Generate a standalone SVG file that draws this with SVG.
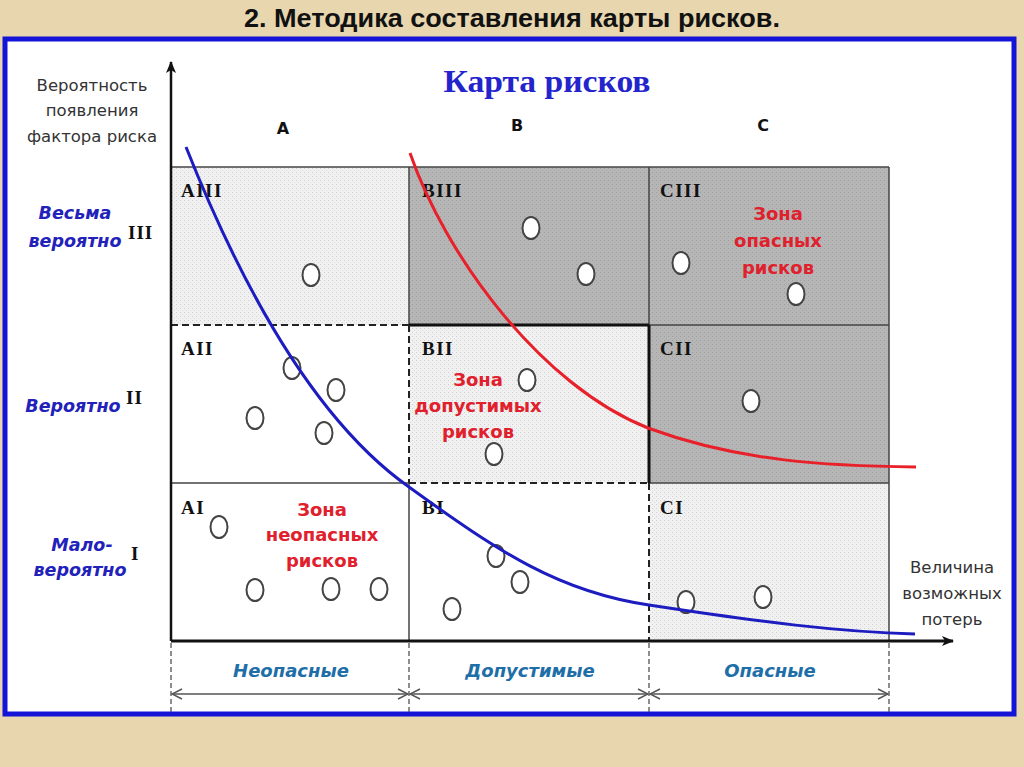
<svg xmlns="http://www.w3.org/2000/svg" width="1024" height="767" viewBox="0 0 1024 767">
<defs>
<pattern id="light" width="4" height="4" patternUnits="userSpaceOnUse">
<rect width="4" height="4" fill="#f1f1f1"/>
<rect x="0" y="0" width="1" height="1" fill="#cfcfcf"/>
<rect x="2" y="2" width="1" height="1" fill="#dadada"/>
</pattern>
<pattern id="dark" width="4" height="4" patternUnits="userSpaceOnUse">
<rect width="4" height="4" fill="#b6b6b6"/>
<rect x="0" y="0" width="1" height="1" fill="#9c9c9c"/>
<rect x="2" y="2" width="1" height="1" fill="#a8a8a8"/>
</pattern>
<marker id="axisArrow" viewBox="0 0 12 10" refX="11" refY="5" markerWidth="12" markerHeight="10" markerUnits="userSpaceOnUse" orient="auto">
<path d="M0,0 L12,5 L0,10 L3,5 Z" fill="#111"/>
</marker>
<marker id="chev" viewBox="0 0 12 12" refX="11" refY="6" markerWidth="12" markerHeight="12" markerUnits="userSpaceOnUse" orient="auto-start-reverse">
<path d="M1,1 L11,6 L1,11" fill="none" stroke="#555" stroke-width="1.5"/>
</marker>
</defs>
<style>
.title{font-family:"Liberation Sans",Arial,sans-serif;font-weight:bold;font-size:25px;fill:#111}
.map{font-family:"Liberation Serif","Times New Roman",serif;font-weight:bold;font-size:32px;fill:#2424cc}
.ax{font-family:"DejaVu Sans",Verdana,sans-serif;font-size:16.5px;fill:#333}
.col{font-family:"DejaVu Sans",Verdana,sans-serif;font-weight:bold;font-size:16px;fill:#111}
.row{font-family:"DejaVu Sans",Verdana,sans-serif;font-weight:bold;font-style:italic;font-size:17.5px;fill:#2222bb}
.rn{font-family:"Liberation Serif","Times New Roman",serif;font-weight:bold;font-size:19px;fill:#111;letter-spacing:1px}
.cell{font-family:"Liberation Serif","Times New Roman",serif;font-weight:bold;font-size:19px;fill:#111;letter-spacing:1.5px}
.zone{font-family:"DejaVu Sans",Verdana,sans-serif;font-weight:bold;font-size:18px;fill:#e0202c}
.bot{font-family:"DejaVu Sans",Verdana,sans-serif;font-weight:bold;font-style:italic;font-size:18px;fill:#1e6ea8}
.pt{fill:#fff;stroke:#444;stroke-width:2}
.grid{stroke:#444;stroke-width:1.5;fill:none}
.thick{stroke:#111;stroke-width:3;fill:none}
.dash{stroke:#222;stroke-width:2;stroke-dasharray:7,4;fill:none}
.guide{stroke:#444;stroke-width:1.2;stroke-dasharray:5,3;fill:none}
.dim{stroke:#555;stroke-width:1.5;fill:none}
</style>
<rect width="1024" height="767" fill="#e7d6ae"/>
<text class="title" x="512" y="27" text-anchor="middle" textLength="536" lengthAdjust="spacingAndGlyphs">2. Методика составления карты рисков.</text>
<rect x="5" y="39" width="1009" height="675" fill="#fff" stroke="#1414d8" stroke-width="5"/>
<text class="map" x="547" y="92" text-anchor="middle" textLength="207" lengthAdjust="spacingAndGlyphs">Карта рисков</text>

<g id="axis-labels">
<text class="ax" x="92" y="91" text-anchor="middle">Вероятность</text>
<text class="ax" x="92" y="116" text-anchor="middle">появления</text>
<text class="ax" x="92" y="142" text-anchor="middle">фактора риска</text>
<text class="ax" x="952" y="573" text-anchor="middle">Величина</text>
<text class="ax" x="952" y="599" text-anchor="middle">возможных</text>
<text class="ax" x="952" y="625" text-anchor="middle">потерь</text>
</g>
<g id="col-headers">
<text class="col" x="283" y="134" text-anchor="middle">A</text>
<text class="col" x="517" y="131" text-anchor="middle">B</text>
<text class="col" x="763" y="131" text-anchor="middle">C</text>
</g>
<g id="row-III">
<text class="row" x="75" y="219" text-anchor="middle">Весьма</text>
<text class="row" x="75" y="247" text-anchor="middle">вероятно</text>
<text class="rn" x="128" y="239">III</text>
</g>
<g id="row-II">
<text class="row" x="73" y="412" text-anchor="middle">Вероятно</text>
<text class="rn" x="126" y="404">II</text>
</g>
<g id="row-I">
<text class="row" x="82" y="551" text-anchor="middle">Мало-</text>
<text class="row" x="80" y="576" text-anchor="middle">вероятно</text>
<text class="rn" x="131" y="560">I</text>
</g>

<g id="cells">
<g id="AIII"><rect x="171" y="167" width="238" height="158" fill="url(#light)"/><text class="cell" x="181" y="197">AIII</text></g>
<g id="BIII"><rect x="409" y="167" width="240" height="158" fill="url(#dark)"/><text class="cell" x="422" y="197">BIII</text></g>
<g id="CIII"><rect x="649" y="167" width="240" height="158" fill="url(#dark)"/><text class="cell" x="660" y="197">CIII</text></g>
<g id="AII"><rect x="171" y="325" width="238" height="158" fill="#fff"/><text class="cell" x="181" y="355">AII</text></g>
<g id="BII"><rect x="409" y="325" width="240" height="158" fill="url(#light)"/><text class="cell" x="422" y="355">BII</text></g>
<g id="CII"><rect x="649" y="325" width="240" height="158" fill="url(#dark)"/><text class="cell" x="660" y="355">CII</text></g>
<g id="AI"><rect x="171" y="483" width="238" height="158" fill="#fff"/><text class="cell" x="181" y="514">AI</text></g>
<g id="BI"><rect x="409" y="483" width="240" height="158" fill="#fff"/><text class="cell" x="422" y="514">BI</text></g>
<g id="CI"><rect x="649" y="483" width="240" height="158" fill="url(#light)"/><text class="cell" x="660" y="514">CI</text></g>
</g>

<g id="grid-lines">
<line class="grid" x1="171" y1="167" x2="889" y2="167"/>
<line class="grid" x1="889" y1="167" x2="889" y2="641"/>
<line class="grid" x1="409" y1="167" x2="409" y2="325"/>
<line class="grid" x1="649" y1="167" x2="649" y2="325"/>
<line class="grid" x1="649" y1="325" x2="889" y2="325"/>
<line class="grid" x1="649" y1="483" x2="889" y2="483"/>
<line class="grid" x1="171" y1="483" x2="409" y2="483"/>
<line class="grid" x1="409" y1="483" x2="409" y2="641"/>
<line class="dash" x1="171" y1="325" x2="409" y2="325"/>
<line class="thick" x1="409" y1="325" x2="649" y2="325"/>
<line class="thick" x1="649" y1="325" x2="649" y2="483"/>
<line class="dash" x1="409" y1="325" x2="409" y2="483"/>
<line class="dash" x1="409" y1="483" x2="649" y2="483"/>
<line class="dash" x1="649" y1="483" x2="649" y2="641"/>
</g>

<g id="points">
<ellipse class="pt" cx="311" cy="275" rx="8.5" ry="11"/>
<ellipse class="pt" cx="531" cy="228" rx="8.5" ry="11"/>
<ellipse class="pt" cx="586" cy="274" rx="8.5" ry="11"/>
<ellipse class="pt" cx="681" cy="263" rx="8.5" ry="11"/>
<ellipse class="pt" cx="796" cy="294" rx="8.5" ry="11"/>
<ellipse class="pt" cx="292" cy="368" rx="8.5" ry="11"/>
<ellipse class="pt" cx="336" cy="390" rx="8.5" ry="11"/>
<ellipse class="pt" cx="255" cy="418" rx="8.5" ry="11"/>
<ellipse class="pt" cx="324" cy="433" rx="8.5" ry="11"/>
<ellipse class="pt" cx="527" cy="380" rx="8.5" ry="11"/>
<ellipse class="pt" cx="494" cy="454" rx="8.5" ry="11"/>
<ellipse class="pt" cx="751" cy="401" rx="8.5" ry="11"/>
<ellipse class="pt" cx="219" cy="527" rx="8.5" ry="11"/>
<ellipse class="pt" cx="255" cy="590" rx="8.5" ry="11"/>
<ellipse class="pt" cx="331" cy="589" rx="8.5" ry="11"/>
<ellipse class="pt" cx="379" cy="589" rx="8.5" ry="11"/>
<ellipse class="pt" cx="496" cy="556" rx="8.5" ry="11"/>
<ellipse class="pt" cx="520" cy="582" rx="8.5" ry="11"/>
<ellipse class="pt" cx="452" cy="609" rx="8.5" ry="11"/>
<ellipse class="pt" cx="686" cy="602" rx="8.5" ry="11"/>
<ellipse class="pt" cx="763" cy="597" rx="8.5" ry="11"/>
</g>

<g id="zone-labels">
<text class="zone" x="778" y="220" text-anchor="middle">Зона</text>
<text class="zone" x="778" y="247" text-anchor="middle">опасных</text>
<text class="zone" x="778" y="274" text-anchor="middle">рисков</text>
<text class="zone" x="478" y="386" text-anchor="middle">Зона</text>
<text class="zone" x="478" y="412" text-anchor="middle">допустимых</text>
<text class="zone" x="478" y="438" text-anchor="middle">рисков</text>
<text class="zone" x="322" y="516" text-anchor="middle">Зона</text>
<text class="zone" x="322" y="541" text-anchor="middle">неопасных</text>
<text class="zone" x="322" y="567" text-anchor="middle">рисков</text>
</g>

<g id="connectors">
<line x1="171" y1="641" x2="171" y2="62" stroke="#111" stroke-width="2.5" marker-end="url(#axisArrow)"/>
<line x1="171" y1="641" x2="953" y2="641" stroke="#111" stroke-width="3" marker-end="url(#axisArrow)"/>
<path d="M186,147 C225,245 300,410 409,487 C500,553 560,592 649,605 C760,622 840,632 915,634" fill="none" stroke="#1c1cc0" stroke-width="3"/>
<path d="M410,153 C445,255 540,385 648,428 C740,462 830,466 916,467" fill="none" stroke="#e8202a" stroke-width="3"/>
<line class="guide" x1="171" y1="643" x2="171" y2="712"/>
<line class="guide" x1="409" y1="643" x2="409" y2="712"/>
<line class="guide" x1="649" y1="643" x2="649" y2="712"/>
<line class="guide" x1="889" y1="643" x2="889" y2="712"/>
<line class="dim" x1="172" y1="694" x2="408" y2="694" marker-start="url(#chev)" marker-end="url(#chev)"/>
<line class="dim" x1="410" y1="694" x2="648" y2="694" marker-start="url(#chev)" marker-end="url(#chev)"/>
<line class="dim" x1="650" y1="694" x2="888" y2="694" marker-start="url(#chev)" marker-end="url(#chev)"/>
</g>

<g id="zone-ranges">
<text class="bot" x="291" y="677" text-anchor="middle">Неопасные</text>
<text class="bot" x="530" y="677" text-anchor="middle">Допустимые</text>
<text class="bot" x="770" y="677" text-anchor="middle">Опасные</text>
</g>
</svg>
